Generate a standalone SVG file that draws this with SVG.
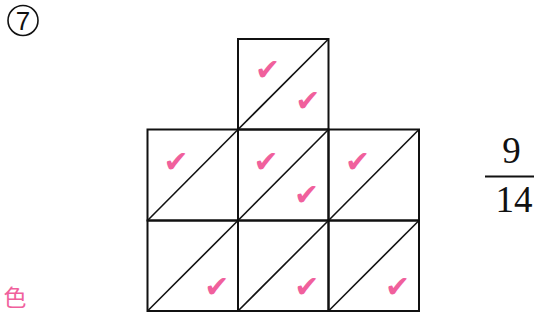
<svg xmlns="http://www.w3.org/2000/svg" width="534" height="320" viewBox="0 0 534 320">
<style>
.cell{fill:none;stroke:#111;stroke-width:2}
.diag{stroke:#111;stroke-width:1.6}
.chk{font-family:"DejaVu Sans",sans-serif;font-size:30px;fill:#f0609c;text-anchor:middle;dominant-baseline:central}
.num{font-family:"Liberation Serif",serif;font-size:37px;fill:#111;text-anchor:middle}
</style>
<rect width="534" height="320" fill="#fff"/>
<g id="label">
<circle cx="23" cy="20.5" r="15" fill="none" stroke="#111" stroke-width="1.6"/>
<text x="23" y="30" font-family="Liberation Sans,sans-serif" font-size="26" text-anchor="middle" fill="#111">7</text>
</g>
<g id="cell-top">
<rect class="cell" x="238" y="39" width="90.5" height="90.5"/>
<line class="diag" x1="238" y1="129.5" x2="328.5" y2="39"/>
<text class="chk" x="267.5" y="69.5">✔</text>
<text class="chk" x="307.8" y="100">✔</text>
</g>
<g id="cell-mid-left">
<rect class="cell" x="147.5" y="129.5" width="90.5" height="91"/>
<line class="diag" x1="147.5" y1="220.5" x2="238" y2="129.5"/>
<text class="chk" x="176" y="161.7">✔</text>
</g>
<g id="cell-mid-center">
<rect class="cell" x="238" y="129.5" width="90.5" height="91"/>
<line class="diag" x1="238" y1="220.5" x2="328.5" y2="129.5"/>
<text class="chk" x="266" y="161.7">✔</text>
<text class="chk" x="306.5" y="194">✔</text>
</g>
<g id="cell-mid-right">
<rect class="cell" x="328.5" y="129.5" width="90.5" height="91"/>
<line class="diag" x1="328.5" y1="220.5" x2="419" y2="129.5"/>
<text class="chk" x="357.5" y="161.7">✔</text>
</g>
<g id="cell-bot-left">
<rect class="cell" x="147.5" y="220.5" width="90.5" height="90.5"/>
<line class="diag" x1="147.5" y1="311" x2="238" y2="220.5"/>
<text class="chk" x="216.8" y="286">✔</text>
</g>
<g id="cell-bot-center">
<rect class="cell" x="238" y="220.5" width="90.5" height="90.5"/>
<line class="diag" x1="238" y1="311" x2="328.5" y2="220.5"/>
<text class="chk" x="306.8" y="286">✔</text>
</g>
<g id="cell-bot-right">
<rect class="cell" x="328.5" y="220.5" width="90.5" height="90.5"/>
<line class="diag" x1="328.5" y1="311" x2="419" y2="220.5"/>
<text class="chk" x="397.5" y="286">✔</text>
</g>
<g id="connectors"></g>
<g id="fraction">
<text class="num" x="511.5" y="163">9</text>
<line x1="485" y1="176.5" x2="534" y2="176.5" stroke="#111" stroke-width="2"/>
<text class="num" x="514" y="212">14</text>
</g>
<g id="note">
<text x="15" y="306" font-family="Noto Sans CJK JP,sans-serif" font-size="23" text-anchor="middle" fill="#f0609c">色</text>
</g>
</svg>
